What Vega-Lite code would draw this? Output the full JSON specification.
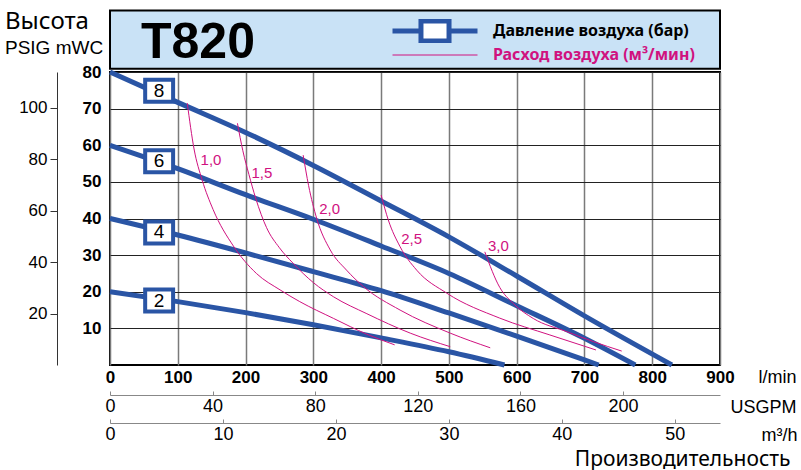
{
  "$schema": "https://vega.github.io/schema/vega-lite/v6.json",
  "width": 610,
  "height": 293,
  "autosize": {"type": "none"},
  "padding": {"left": 110, "top": 72, "right": 81, "bottom": 105},
  "background": "white",
  "title": {
    "text": "Высота",
    "subtitle": "PSIG  mWC",
    "orient": "top",
    "anchor": "start",
    "frame": "group",
    "dx": -105,
    "offset": -49,
    "font": "Noto Sans",
    "fontSize": 24,
    "fontWeight": "normal",
    "color": "black",
    "subtitleFont": "Liberation Sans",
    "subtitleFontSize": 19,
    "subtitleColor": "black",
    "subtitlePadding": 5
  },
  "config": {
    "view": {"stroke": "black", "strokeWidth": 2},
    "axis": {"labelFont": "Liberation Sans", "titleFont": "Liberation Sans", "labelColor": "black", "titleColor": "black"}
  },
  "datasets": {
    "curves": [
      {"series": "8", "kind": "Давление воздуха (бар)", "q": 0, "h": 80},
      {"series": "8", "kind": "Давление воздуха (бар)", "q": 100, "h": 71.7},
      {"series": "8", "kind": "Давление воздуха (бар)", "q": 200, "h": 63.5},
      {"series": "8", "kind": "Давление воздуха (бар)", "q": 300, "h": 54.5},
      {"series": "8", "kind": "Давление воздуха (бар)", "q": 400, "h": 44.8},
      {"series": "8", "kind": "Давление воздуха (бар)", "q": 500, "h": 35},
      {"series": "8", "kind": "Давление воздуха (бар)", "q": 600, "h": 24.3},
      {"series": "8", "kind": "Давление воздуха (бар)", "q": 700, "h": 13.4},
      {"series": "8", "kind": "Давление воздуха (бар)", "q": 829, "h": 0},
      {"series": "6", "kind": "Давление воздуха (бар)", "q": 0, "h": 60},
      {"series": "6", "kind": "Давление воздуха (бар)", "q": 100, "h": 53.6},
      {"series": "6", "kind": "Давление воздуха (бар)", "q": 200, "h": 46.5},
      {"series": "6", "kind": "Давление воздуха (бар)", "q": 300, "h": 39.8},
      {"series": "6", "kind": "Давление воздуха (бар)", "q": 400, "h": 32.5},
      {"series": "6", "kind": "Давление воздуха (бар)", "q": 500, "h": 25},
      {"series": "6", "kind": "Давление воздуха (бар)", "q": 600, "h": 16.2},
      {"series": "6", "kind": "Давление воздуха (бар)", "q": 700, "h": 7.3},
      {"series": "6", "kind": "Давление воздуха (бар)", "q": 775, "h": 0},
      {"series": "4", "kind": "Давление воздуха (бар)", "q": 0, "h": 40},
      {"series": "4", "kind": "Давление воздуха (бар)", "q": 100, "h": 35.5},
      {"series": "4", "kind": "Давление воздуха (бар)", "q": 200, "h": 30.6},
      {"series": "4", "kind": "Давление воздуха (бар)", "q": 300, "h": 25.5},
      {"series": "4", "kind": "Давление воздуха (бар)", "q": 400, "h": 20.3},
      {"series": "4", "kind": "Давление воздуха (бар)", "q": 500, "h": 14.2},
      {"series": "4", "kind": "Давление воздуха (бар)", "q": 600, "h": 7.9},
      {"series": "4", "kind": "Давление воздуха (бар)", "q": 700, "h": 1.4},
      {"series": "4", "kind": "Давление воздуха (бар)", "q": 721, "h": 0},
      {"series": "2", "kind": "Давление воздуха (бар)", "q": 0, "h": 20},
      {"series": "2", "kind": "Давление воздуха (бар)", "q": 100, "h": 17.3},
      {"series": "2", "kind": "Давление воздуха (бар)", "q": 200, "h": 14.3},
      {"series": "2", "kind": "Давление воздуха (бар)", "q": 300, "h": 11},
      {"series": "2", "kind": "Давление воздуха (бар)", "q": 400, "h": 7.4},
      {"series": "2", "kind": "Давление воздуха (бар)", "q": 500, "h": 3.6},
      {"series": "2", "kind": "Давление воздуха (бар)", "q": 582, "h": 0},
      {"series": "1,0", "kind": "Расход воздуха (м³/мин)", "q": 114, "h": 71.5},
      {"series": "1,0", "kind": "Расход воздуха (м³/мин)", "q": 124, "h": 59},
      {"series": "1,0", "kind": "Расход воздуха (м³/мин)", "q": 136, "h": 50.5},
      {"series": "1,0", "kind": "Расход воздуха (м³/мин)", "q": 152, "h": 42.5},
      {"series": "1,0", "kind": "Расход воздуха (м³/мин)", "q": 182, "h": 32.5},
      {"series": "1,0", "kind": "Расход воздуха (м³/мин)", "q": 216, "h": 25},
      {"series": "1,0", "kind": "Расход воздуха (м³/мин)", "q": 251, "h": 20.5},
      {"series": "1,0", "kind": "Расход воздуха (м³/мин)", "q": 280, "h": 17.3},
      {"series": "1,0", "kind": "Расход воздуха (м³/мин)", "q": 330, "h": 12.7},
      {"series": "1,0", "kind": "Расход воздуха (м³/мин)", "q": 379, "h": 8.4},
      {"series": "1,0", "kind": "Расход воздуха (м³/мин)", "q": 420, "h": 5.5},
      {"series": "1,5", "kind": "Расход воздуха (м³/мин)", "q": 188, "h": 66},
      {"series": "1,5", "kind": "Расход воздуха (м³/мин)", "q": 196, "h": 58.5},
      {"series": "1,5", "kind": "Расход воздуха (м³/мин)", "q": 205, "h": 52},
      {"series": "1,5", "kind": "Расход воздуха (м³/мин)", "q": 215, "h": 45.5},
      {"series": "1,5", "kind": "Расход воздуха (м³/мин)", "q": 231, "h": 37.5},
      {"series": "1,5", "kind": "Расход воздуха (м³/мин)", "q": 250, "h": 32},
      {"series": "1,5", "kind": "Расход воздуха (м³/мин)", "q": 270, "h": 27.8},
      {"series": "1,5", "kind": "Расход воздуха (м³/мин)", "q": 300, "h": 22.5},
      {"series": "1,5", "kind": "Расход воздуха (м³/мин)", "q": 330, "h": 18.6},
      {"series": "1,5", "kind": "Расход воздуха (м³/мин)", "q": 379, "h": 14},
      {"series": "1,5", "kind": "Расход воздуха (м³/мин)", "q": 443, "h": 8.7},
      {"series": "1,5", "kind": "Расход воздуха (м³/мин)", "q": 502, "h": 5},
      {"series": "2,0", "kind": "Расход воздуха (м³/мин)", "q": 285, "h": 57.3},
      {"series": "2,0", "kind": "Расход воздуха (м³/мин)", "q": 293, "h": 49},
      {"series": "2,0", "kind": "Расход воздуха (м³/мин)", "q": 305, "h": 40},
      {"series": "2,0", "kind": "Расход воздуха (м³/мин)", "q": 325, "h": 31.4},
      {"series": "2,0", "kind": "Расход воздуха (м³/мин)", "q": 349, "h": 25.9},
      {"series": "2,0", "kind": "Расход воздуха (м³/мин)", "q": 374, "h": 21.4},
      {"series": "2,0", "kind": "Расход воздуха (м³/мин)", "q": 428, "h": 15},
      {"series": "2,0", "kind": "Расход воздуха (м³/мин)", "q": 502, "h": 8.7},
      {"series": "2,0", "kind": "Расход воздуха (м³/мин)", "q": 561, "h": 4.7},
      {"series": "2,5", "kind": "Расход воздуха (м³/мин)", "q": 400, "h": 46.4},
      {"series": "2,5", "kind": "Расход воздуха (м³/мин)", "q": 410.6, "h": 39.6},
      {"series": "2,5", "kind": "Расход воздуха (м³/мин)", "q": 428, "h": 32.3},
      {"series": "2,5", "kind": "Расход воздуха (м³/мин)", "q": 452.5, "h": 25.9},
      {"series": "2,5", "kind": "Расход воздуха (м³/мин)", "q": 497, "h": 19.6},
      {"series": "2,5", "kind": "Расход воздуха (м³/мин)", "q": 575, "h": 12.8},
      {"series": "2,5", "kind": "Расход воздуха (м³/мин)", "q": 649, "h": 8.2},
      {"series": "2,5", "kind": "Расход воздуха (м³/мин)", "q": 717, "h": 4.1},
      {"series": "3,0", "kind": "Расход воздуха (м³/мин)", "q": 553, "h": 30.9},
      {"series": "3,0", "kind": "Расход воздуха (м³/мин)", "q": 575, "h": 21.2},
      {"series": "3,0", "kind": "Расход воздуха (м³/мин)", "q": 595, "h": 16.8},
      {"series": "3,0", "kind": "Расход воздуха (м³/мин)", "q": 624.5, "h": 12.7},
      {"series": "3,0", "kind": "Расход воздуха (м³/мин)", "q": 674, "h": 9.1},
      {"series": "3,0", "kind": "Расход воздуха (м³/мин)", "q": 713, "h": 6.4},
      {"series": "3,0", "kind": "Расход воздуха (м³/мин)", "q": 755, "h": 3.8}
    ],
    "barLabels": [
      {"bar": "8", "q": 72.5, "h": 74.9},
      {"bar": "6", "q": 72.5, "h": 55.6},
      {"bar": "4", "q": 72.5, "h": 36.2},
      {"bar": "2", "q": 72.5, "h": 17.6}
    ],
    "flowLabels": [
      {"label": "1,0", "q": 149, "h": 56},
      {"label": "1,5", "q": 224, "h": 52.5},
      {"label": "2,0", "q": 324, "h": 42.5},
      {"label": "2,5", "q": 445, "h": 34.3},
      {"label": "3,0", "q": 573, "h": 32.6}
    ]
  },
  "layer": [
    {
      "layer": [
        {
          "data": {"values": [{}]},
          "mark": {"type": "rect", "fill": "#c9e2f6", "stroke": "black", "strokeWidth": 2},
          "encoding": {
            "x": {"datum": 0, "type": "quantitative"},
            "x2": {"datum": 900},
            "y": {"datum": 80.9, "type": "quantitative"},
            "y2": {"datum": 96.8}
          }
        },
        {
          "data": {"name": "curves"},
          "mark": {"type": "line", "interpolate": "monotone", "strokeCap": "butt"},
          "encoding": {
            "x": {
              "field": "q", "type": "quantitative",
              "scale": {"domain": [0, 900], "nice": false, "zero": false},
              "axis": {
                "orient": "bottom",
                "values": [0, 100, 200, 300, 400, 500, 600, 700, 800, 900],
                "grid": true, "gridColor": "#7a7a7a", "gridWidth": 1.5, "gridOpacity": 1,
                "domain": false, "ticks": false,
                "labelFontWeight": "bold", "labelFontSize": 17, "labelPadding": 4, "labelFlush": false,
                "title": "l/min", "titleFontWeight": "normal", "titleFontSize": 18,
                "titleX": 686, "titleY": 12, "titleAlign": "right", "titleBaseline": "middle"
              }
            },
            "y": {
              "field": "h", "type": "quantitative",
              "scale": {"domain": [0, 80], "nice": false, "zero": false},
              "axis": {
                "orient": "left",
                "values": [10, 20, 30, 40, 50, 60, 70, 80],
                "grid": true, "gridColor": "#222222", "gridWidth": 1, "gridOpacity": 1,
                "domain": false, "ticks": false,
                "labelFontWeight": "bold", "labelFontSize": 17, "labelPadding": 9,
                "title": null
              }
            },
            "detail": {"field": "series"},
            "color": {
              "field": "kind", "type": "nominal",
              "scale": {"domain": ["Давление воздуха (бар)", "Расход воздуха (м³/мин)"], "range": ["#2a55a5", "#d0127f"]},
              "legend": {
                "orient": "none", "legendX": 31, "legendY": -53,
                "title": "T820", "titleOrient": "left",
                "titleFont": "Liberation Sans", "titleFontSize": 50, "titleFontWeight": 900, "titleColor": "black",
                "titlePadding": 135, "titleBaseline": "middle", "titleAnchor": "middle",
                "padding": 0,
                "symbolType": "M-1,0H1", "symbolSize": 7225, "symbolStrokeWidth": 4,
                "clipHeight": 24, "rowPadding": 0,
                "labelFont": "Noto Sans", "labelFontSize": 16, "labelFontWeight": "bold",
                "labelOffset": 13, "labelLimit": 400,
                "encode": {
                  "symbols": {
                    "update": {
                      "shape": {"signal": "datum.value === 'Давление воздуха (бар)' ? 'M-1,0H-0.33M0.33,0H1M-0.33,-0.235H0.33V0.235H-0.33Z' : 'M-1,0H1'"},
                      "strokeWidth": {"signal": "datum.value === 'Давление воздуха (бар)' ? 4.5 : 1"},
                      "fill": {"value": "white"},
                      "fillOpacity": {"value": 1}
                    }
                  },
                  "labels": {
                    "update": {
                      "fill": {"signal": "datum.value === 'Давление воздуха (бар)' ? 'black' : '#d0127f'"}
                    }
                  }
                }
              }
            },
            "strokeWidth": {
              "field": "kind", "type": "nominal",
              "scale": {"domain": ["Давление воздуха (бар)", "Расход воздуха (м³/мин)"], "range": [5, 1]},
              "legend": null
            }
          }
        },
        {
          "data": {"name": "barLabels"},
          "mark": {"type": "point", "shape": "M-1.27,-1H1.27V1H-1.27Z", "size": 484, "filled": true, "fill": "white", "stroke": "#2a55a5", "strokeWidth": 4, "opacity": 1},
          "encoding": {
            "x": {"field": "q", "type": "quantitative"},
            "y": {"field": "h", "type": "quantitative"}
          }
        },
        {
          "data": {"name": "barLabels"},
          "mark": {"type": "text", "font": "Liberation Sans", "fontSize": 19, "color": "black", "baseline": "middle", "align": "center"},
          "encoding": {
            "x": {"field": "q", "type": "quantitative"},
            "y": {"field": "h", "type": "quantitative"},
            "text": {"field": "bar"}
          }
        },
        {
          "data": {"name": "flowLabels"},
          "mark": {"type": "text", "font": "Liberation Sans", "fontSize": 15, "color": "#d0127f", "baseline": "middle", "align": "center"},
          "encoding": {
            "x": {"field": "q", "type": "quantitative"},
            "y": {"field": "h", "type": "quantitative"},
            "text": {"field": "label"}
          }
        }
      ]
    },
    {
      "data": {"values": [{"psi": 20}, {"psi": 40}, {"psi": 60}, {"psi": 80}, {"psi": 100}]},
      "mark": {"type": "point", "opacity": 0},
      "encoding": {
        "y": {
          "field": "psi", "type": "quantitative",
          "scale": {"domain": [0, 113.8], "nice": false, "zero": false},
          "axis": {
            "orient": "left", "offset": 53,
            "values": [20, 40, 60, 80, 100],
            "grid": false, "domainColor": "#333333", "tickColor": "#333333", "tickSize": 7,
            "labelFontSize": 17, "labelPadding": 3, "title": null
          }
        }
      }
    },
    {
      "data": {"values": [{"gpm": 0}, {"gpm": 40}, {"gpm": 80}, {"gpm": 120}, {"gpm": 160}, {"gpm": 200}]},
      "mark": {"type": "point", "opacity": 0},
      "encoding": {
        "x": {
          "field": "gpm", "type": "quantitative",
          "scale": {"domain": [0, 237.8], "nice": false, "zero": false},
          "axis": {
            "orient": "bottom", "offset": 30,
            "values": [0, 40, 80, 120, 160, 200],
            "grid": false, "domainColor": "#888888", "tickColor": "#888888", "tickSize": -4,
            "labelFontSize": 18, "labelPadding": 6, "labelFlush": false,
            "title": "USGPM", "titleFontWeight": "normal", "titleFontSize": 18,
            "titleX": 686, "titleY": 12, "titleAlign": "right", "titleBaseline": "middle"
          }
        }
      }
    },
    {
      "data": {"values": [{"m3h": 0}, {"m3h": 10}, {"m3h": 20}, {"m3h": 30}, {"m3h": 40}, {"m3h": 50}]},
      "mark": {"type": "point", "opacity": 0},
      "encoding": {
        "x": {
          "field": "m3h", "type": "quantitative",
          "scale": {"domain": [0, 54], "nice": false, "zero": false},
          "axis": {
            "orient": "bottom", "offset": 58,
            "values": [0, 10, 20, 30, 40, 50],
            "grid": false, "domainColor": "#888888", "tickColor": "#888888", "tickSize": -4,
            "labelFontSize": 18, "labelPadding": 6, "labelFlush": false,
            "title": "m³/h", "titleFontWeight": "normal", "titleFontSize": 18,
            "titleX": 687, "titleY": 12, "titleAlign": "right", "titleBaseline": "middle"
          }
        }
      }
    },
    {
      "data": {"values": [{"m3h": 0}, {"m3h": 50}]},
      "mark": {"type": "point", "opacity": 0},
      "encoding": {
        "x": {
          "field": "m3h", "type": "quantitative",
          "scale": {"domain": [0, 54], "nice": false, "zero": false},
          "axis": {
            "orient": "bottom", "offset": 58,
            "labels": false, "ticks": false, "domain": false, "grid": false,
            "title": "Производительность", "titleFont": "Noto Sans", "titleFontWeight": "normal", "titleFontSize": 21,
            "titleX": 680, "titleY": 36, "titleAlign": "right", "titleBaseline": "middle"
          }
        }
      }
    }
  ],
  "resolve": {"scale": {"x": "independent", "y": "independent"}}
}
